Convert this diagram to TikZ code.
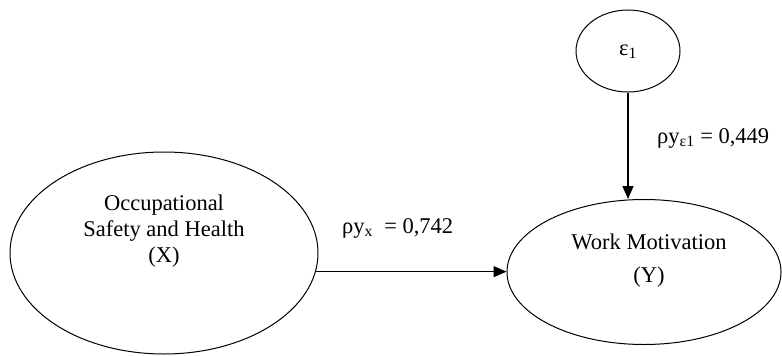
\documentclass[tikz,border=0pt]{standalone}
\usepackage{fontspec}
\setmainfont{Liberation Serif}
\usetikzlibrary{arrows.meta,shapes.geometric}
\begin{document}
\begin{tikzpicture}[x=1pt,y=-1pt,
  var/.style={draw, ellipse, line width=1pt, inner sep=0pt},
  txt/.style={align=center, inner sep=0pt, font=\fontsize{22.5}{26}\selectfont},
  path/.style={line width=1.2pt, -{Triangle[length=13pt,width=11pt]}}]
  \useasboundingbox (0,0) rectangle (782,356);
  % latent variables
  \node[var, minimum width=308pt, minimum height=202pt] (X) at (164,253) {};
  \node[var, minimum width=274pt, minimum height=145pt] (Y) at (644,272) {};
  \node[var, minimum width=104pt, minimum height=82pt] (E) at (628,51) {};
  % texts
  \node[txt] (Xt) at (164,231) {Occupational\\Safety and Health\\(X)};
  \node[txt] (Yt) at (649,261) {Work Motivation\\[7pt](Y)};
  \node[txt] (Et) at (628,52) {ε\textsubscript{1}};
  % paths
  \draw[path] (X.-7) -- (X.-7 -| Y.west);
  \draw[path] (E.south) -- (E.south |- Y.north);
  % coefficients
  \node[txt, anchor=west] (px) at (342,228) {ρy\textsubscript{x}\ \ = 0,742};
  \node[txt, anchor=west] (pe) at (657,138) {ρy\textsubscript{ε1} = 0,449};
\end{tikzpicture}
\end{document}
